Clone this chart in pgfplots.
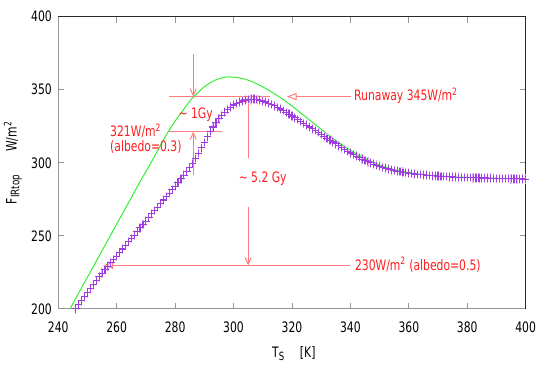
\documentclass[border=0pt]{standalone}
\usepackage{fontspec}
\setmainfont{DejaVu Sans}[FakeStretch=0.75]
\usepackage{pgfplots}
\usepackage{pgfplotstable}
\pgfplotsset{compat=1.18}
\usetikzlibrary{arrows.meta}
\definecolor{rtext}{RGB}{255,30,30}
\definecolor{rline}{RGB}{255,125,125}
\definecolor{gline}{RGB}{50,240,50}
\definecolor{pmark}{RGB}{160,60,225}
\definecolor{phalo}{RGB}{220,180,245}
\definecolor{axgray}{RGB}{150,150,150}
\definecolor{axdark}{RGB}{40,40,40}

\pgfplotstableread{
x y
244 200.0
248 214.5
252 229.0
256 243.5
260 258.0
264 272.5
268 287.0
272 301.0
276 315.5
278 322.5
280 328.5
282 334.0
284 339.5
286 344.5
288 348.5
290 352.0
292 354.8
294 356.8
296 358.1
298 358.8
300 358.6
302 358.1
304 357.2
306 355.8
308 354.0
310 352.0
312 349.7
314 347.2
316 344.6
318 341.8
320 338.8
322 335.7
324 332.5
326 329.3
328 326.1
330 322.9
332 319.8
334 316.8
336 313.9
338 311.1
340 308.5
342 306.1
344 303.9
346 301.9
348 300.1
350 298.5
352 297.1
354 295.9
356 294.8
358 293.9
360 293.3
365 291.9
370 291.0
375 290.4
380 290.0
390 289.4
400 289.0
}\greendata

\pgfplotstableread{
x y
246 200.0
247 202.8
248 205.5
249 208.3
250 211.0
251 213.8
252 216.5
253 219.3
254 222.0
255 224.5
256 227.0
257 229.3
258 231.5
259 233.8
260 236.0
261 238.5
262 241.0
263 243.5
264 246.0
265 248.3
266 250.5
267 253.0
268 255.5
269 257.8
270 260.0
271 262.5
272 265.0
273 267.3
274 269.5
275 272.0
276 274.5
277 276.8
278 279.2
279 281.6
280 284.0
281 286.5
282 289.0
283 291.5
284 294.0
285 296.7
286 299.5
287 303.0
288 306.5
289 310.2
290 314.0
291 317.8
292 321.3
293 324.5
294 327.5
295 330.1
296 332.5
297 334.6
298 336.5
299 338.1
300 339.5
301 340.6
302 341.5
303 342.3
304 343.0
305 343.4
306 343.6
307 343.6
308 343.4
309 342.9
310 342.3
311 341.6
312 340.8
313 339.9
314 339.0
315 337.9
316 336.8
317 335.7
318 334.5
319 333.3
320 332.0
321 330.8
322 329.5
323 328.2
324 327.0
325 325.7
326 324.5
327 323.2
328 322.0
329 320.7
330 319.4
331 318.1
332 316.8
333 315.5
334 314.2
335 312.9
336 311.6
337 310.3
338 309.1
339 307.9
340 306.7
341 305.6
342 304.5
343 303.5
344 302.5
345 301.6
346 300.7
347 299.9
348 299.1
349 298.3
350 297.6
351 296.9
352 296.3
353 295.7
354 295.2
355 294.7
356 294.3
357 293.9
358 293.5
359 293.2
360 292.9
361 292.6
362 292.3
363 292.1
364 291.9
365 291.7
366 291.5
367 291.3
368 291.1
369 291.0
370 290.8
371 290.7
372 290.6
373 290.5
374 290.4
375 290.3
376 290.2
377 290.1
378 290.0
379 289.95
380 289.9
381 289.8
382 289.75
383 289.7
384 289.65
385 289.6
386 289.55
387 289.5
388 289.45
389 289.4
390 289.35
391 289.3
392 289.25
393 289.2
394 289.15
395 289.1
396 289.05
397 289.0
398 288.95
399 288.9
400 288.85
}\purpledata

\begin{document}
\fontsize{10.8}{13}\selectfont
\begin{tikzpicture}
\begin{axis}[name=ax, scale only axis, width=350.6pt, height=219.2pt,
  xmin=240, xmax=400, ymin=200, ymax=400,
  xtick={240,260,...,400}, ytick={200,250,...,400},
  axis line style={axgray, line width=0.8pt},
  tick style={axgray, line width=0.6pt},
  major tick length=4.5pt,
  tick align=inside,
  /pgf/number format/assume math mode=true,
  xticklabel style={yshift=-6pt},
  yticklabel style={xshift=-1pt},
  xlabel={T\raisebox{-0.35ex}{\fontsize{8.5}{9}\selectfont S}\hspace{1.1em}[K]},
  ylabel={F\raisebox{-0.35ex}{\fontsize{8.8}{9}\selectfont IRtop}\hspace{1.6em}W/m\textsuperscript{2}},
  xlabel style={at={(axis description cs:0.504,-0.154)}, anchor=center},
  ylabel style={at={(axis description cs:-0.097,0.5)}, anchor=center},
  clip=false,
]
\addplot[only marks, mark=|, mark size=3.6pt, color=phalo, mark options={line width=0.9pt}] table[x=x,y=y] {\purpledata};
\addplot[only marks, mark=+, mark size=2.8pt, color=pmark, mark options={line width=0.85pt}] table[x=x,y=y] {\purpledata};
\addplot[gline, line width=0.75pt, smooth, no marks] table[x=x,y=y] {\greendata};

\draw[axdark, line width=0.8pt] (rel axis cs:0,1) -- (rel axis cs:1,1) -- (rel axis cs:1,0);

% annotations
\draw[rline, line width=0.75pt, -{Straight Barb[length=5pt,width=4.5pt]}] (axis cs:286.2,374.5) -- (axis cs:286.2,345.3);
\draw[rline, line width=0.75pt] (axis cs:278,345.3) -- (axis cs:312.6,345.3);
\draw[rline, line width=0.75pt] (axis cs:278,321.3) -- (axis cs:295.9,321.3);
\draw[rline, line width=0.75pt, -{Straight Barb[length=5pt,width=4.5pt]}] (axis cs:286.2,291.7) -- (axis cs:286.2,321.3);
\draw[rline, line width=0.75pt, -{Triangle[open,length=7.5pt,width=5.5pt]}] (axis cs:340.1,345.3) -- (axis cs:318.2,345.3);
\draw[rline, line width=0.75pt, -{Straight Barb[length=5pt,width=4.5pt]}] (axis cs:305,303) -- (axis cs:305,345.3);
\draw[rline, line width=0.75pt, -{Straight Barb[length=5pt,width=4.5pt]}] (axis cs:305,269.6) -- (axis cs:305,229.8);
\draw[rline, line width=0.75pt, -{Triangle[open,length=7.5pt,width=5.5pt]}] (axis cs:339.7,229.8) -- (axis cs:255.4,229.8);

\node[rtext, anchor=west, inner sep=0pt] at (axis cs:281.1,332.7) {\textasciitilde\ 1Gy};
\node[rtext, anchor=west, inner sep=0pt] at (axis cs:257.7,321.8) {321W/m\textsuperscript{2}};
\node[rtext, anchor=west, inner sep=0pt] at (axis cs:257.7,310.6) {(albedo=0.3)};
\node[rtext, anchor=west, inner sep=0pt] at (axis cs:341.2,345.8) {Runaway 345W/m\textsuperscript{2}};
\node[rtext, anchor=west, inner sep=0pt] at (axis cs:301.7,289.4) {\textasciitilde\ 5.2 Gy};
\node[rtext, anchor=west, inner sep=0pt] at (axis cs:341.5,230.3) {230W/m\textsuperscript{2} (albedo=0.5)};
\end{axis}
\pgfresetboundingbox
\path ([xshift=-43.7pt,yshift=-54.75pt]ax.south west) rectangle ([xshift=14.5pt,yshift=12.5pt]ax.north east);
\end{tikzpicture}
\end{document}
